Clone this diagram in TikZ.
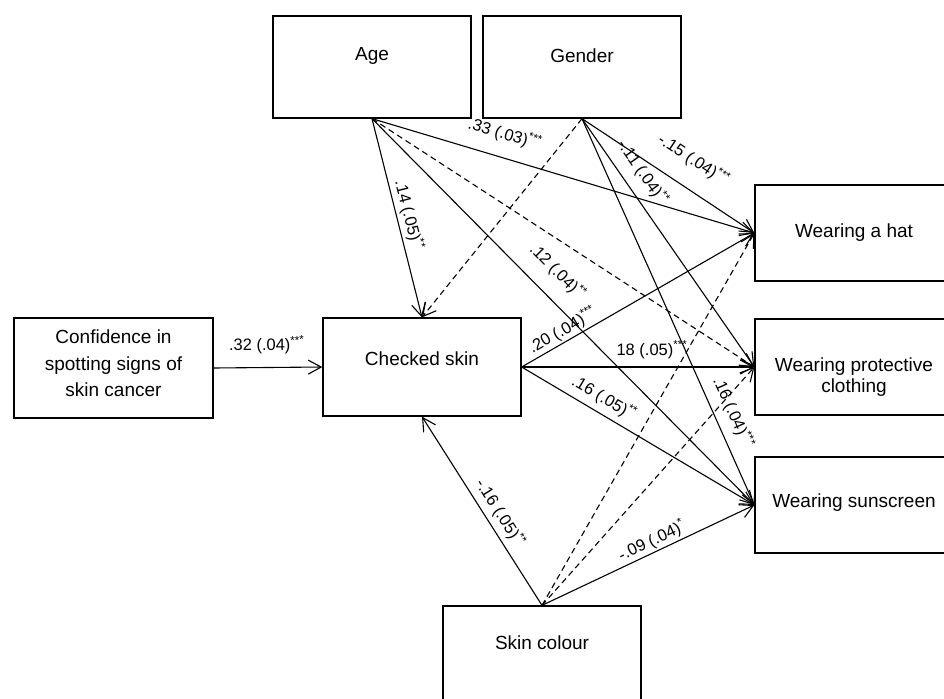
\documentclass[tikz,border=0pt]{standalone}
\usepackage{fontspec}
\setmainfont{Liberation Sans}
\usetikzlibrary{arrows.meta}

\newcommand{\sig}[1]{\textsuperscript{#1}}

\begin{document}
\begin{tikzpicture}[x=1pt,y=-1pt,
  box/.style={draw,line width=1.3pt,minimum width=198pt,minimum height=98pt},
  boxtext/.style={font=\fontsize{19}{23}\selectfont,align=center,inner sep=0pt},
  link/.style={line width=1.1pt,-{Straight Barb[length=13pt,width=14pt]}},
  ns/.style={link,dash pattern=on 6pt off 4pt},
  coef/.style={font=\fontsize{16.5}{19}\selectfont,sloped,inner sep=2pt}]
\useasboundingbox (0,0) rectangle (944,698);
\clip (0,0) rectangle (944,698);
% boxes
\node[box,minimum width=199pt,minimum height=100pt] (conf) at (113.5,368) {};
\node[box,minimum height=102pt] (age) at (372,67) {};
\node[box,minimum height=102pt] (gender) at (582,67) {};
\node[box] (checked) at (422,367) {};
\node[box] (skin) at (542,655) {};
\node[box,minimum height=96pt] (hat) at (854,233) {};
\node[box,minimum height=96pt] (prot) at (854,367) {};
\node[box,minimum height=96pt] (sun) at (854,505) {};
% texts
\node[boxtext,font=\fontsize{19}{26.5}\selectfont] (conftxt) at (113.5,363.5) {Confidence in\\spotting signs of\\skin cancer};
\node[boxtext] (agetxt) at (372,56) {Age};
\node[boxtext] (gendertxt) at (582,56) {Gender};
\node[boxtext] (checkedtxt) at (422,359) {Checked skin};
\node[boxtext] (skintxt) at (542,643) {Skin colour};
\node[boxtext] (hattxt) at (854,233) {Wearing a hat};
\node[boxtext,font=\fontsize{19}{21}\selectfont] (prottxt) at (854,377.5) {Wearing protective\\clothing};
\node[boxtext] (suntxt) at (854,503) {Wearing sunscreen};
% significant paths
\foreach \a/\b/\p/\d/\t in {
  conf.east/checked.west/.49/11pt/{.32 (.04)\sig{***}},
  age.south/checked.north/.5/1pt/{.14 (.05)\sig{**}},
  age.south/hat.west/.33/12pt/{.33 (.03)\sig{***}},
  age.south/sun.west/.44/13pt/{.12 (.04)\sig{**}},
  gender.south/hat.west/.56/16pt/{-.15 (.04)\sig{***}},
  gender.south/prot.west/.26/8pt/{-.11 (.04)\sig{**}},
  gender.south/sun.west/.78/7pt/{.16 (.04)\sig{***}},
  checked.east/hat.west/.2/0pt/{.20 (.04)\sig{***}},
  checked.east/prot.west/.56/6pt/{18 (.05)\sig{***}},
  checked.east/sun.west/.32/4pt/{.16 (.05)\sig{**}},
  skin.north/checked.south/.45/3pt/{-.16 (.05)\sig{**}},
  skin.north/sun.west/.54/0pt/{-.09 (.04)\sig{*}}}
  \draw[link] (\a) -- node[coef,pos=\p,above=\d] {\t} (\b);
% non-significant paths
\foreach \a/\b in {age.south/prot.west, gender.south/checked.north,
  skin.north/hat.west, skin.north/prot.west}
  \draw[ns] (\a) -- (\b);
\end{tikzpicture}
\end{document}
